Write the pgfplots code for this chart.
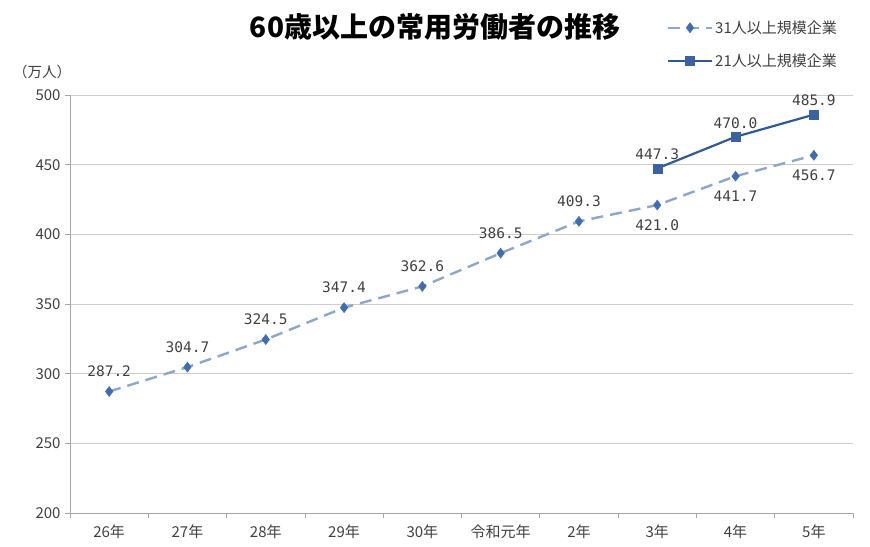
\documentclass[border=0pt]{standalone}
\usepackage{pgfplots}
\pgfplotsset{compat=1.18}
\usepackage{fontspec}
\setmainfont{Noto Sans CJK JP}
\newfontfamily\monofont{DejaVu Sans Mono}
\definecolor{dashc}{HTML}{8EA6CB}
\definecolor{markc}{HTML}{3F6DB5}
\definecolor{solidc}{HTML}{2E5A9C}
\definecolor{txt}{HTML}{404040}
\pgfplotstableread{
x y
0 287.2
1 304.7
2 324.5
3 347.4
4 362.6
5 386.5
6 409.3
7 421.0
8 441.7
9 456.7
}\seriesA
\pgfplotstableread{
x y
7 447.3
8 470.0
9 485.9
}\seriesB
\begin{document}
\begin{tikzpicture}[x=1bp,y=1bp]
\useasboundingbox (0,0) rectangle (870,547);
\begin{axis}[
  at={(70bp,34bp)}, anchor=south west,
  scale only axis, width=783bp, height=418bp,
  xmin=-0.5, xmax=9.5, ymin=200, ymax=500,
  ytick={200,250,...,500},
  xtick={0,...,9},
  xticklabels={26年,27年,28年,29年,30年,令和元年,2年,3年,4年,5年},
  minor xtick={-0.5,0.5,...,9.5},
  major x tick style={draw=none},
  minor x tick style={draw=gray!70, line width=0.8pt},
  ytick style={draw=gray!70, line width=0.8pt},
  tick align=outside,
  major tick length=5bp, minor tick length=5bp,
  ymajorgrids, grid style={draw=gray!40, line width=0.8pt},
  axis x line*=bottom, axis y line*=left,
  axis line style={draw=gray!70, line width=0.8pt, -},
  /pgf/number format/assume math mode=true,
  tick label style={font=\fontsize{15bp}{17bp}\selectfont, text=txt},
  xticklabel style={yshift=-3bp},
  yticklabel style={xshift=-1bp},
  clip=false,
  legend style={draw=none, fill=none, at={(0.762,1.183)}, anchor=north west,
    font=\fontsize{15bp}{17bp}\selectfont, text=txt, row sep=15bp, inner sep=0pt},
  legend cell align=left,
  legend image code/.code={\draw[mark repeat=2,mark phase=2,#1] plot coordinates {(0bp,0bp)(22bp,0bp)(44bp,0bp)};},
]
\addplot[color=dashc, line width=2.4pt, dash pattern=on 12bp off 7bp,
  mark=diamond*, mark size=5bp, mark options={solid, fill=markc, draw=markc, line width=0.5pt}]
  table[x=x,y=y] {\seriesA};
\addlegendentry{31人以上規模企業}
\addplot[color=solidc, line width=2.2pt,
  mark=square*, mark size=4.5bp, mark options={solid, fill=markc!90!black, draw=markc!90!black, line width=0.5pt}]
  table[x=x,y=y] {\seriesB};
\addlegendentry{21人以上規模企業}
% labels
\pgfplotsset{lbl/.style={draw=none, mark=none, forget plot, point meta=y,
  nodes near coords={\pgfmathprintnumber[fixed,fixed zerofill,precision=1]{\pgfplotspointmeta}},
  every node near coord/.append style={anchor=center, yshift=#1, font=\monofont\fontsize{14.5bp}{16bp}\selectfont, text=txt}}}
\addplot[lbl=20bp] table[x=x,y=y] {
x y
0 287.2
1 304.7
2 324.5
3 347.4
4 362.6
5 386.5
6 409.3
};
\addplot[lbl=-20bp] table[x=x,y=y] {
x y
7 421.0
8 441.7
9 456.7
};
\addplot[lbl=14bp] table[x=x,y=y] {\seriesB};
\end{axis}
\node[font=\fontsize{28bp}{31bp}\selectfont\bfseries, anchor=center] at (435,520) {60歳以上の常用労働者の推移};
\node[font=\fontsize{14.5bp}{16bp}\selectfont, text=txt, anchor=center] at (42,475) {（万人）};
\end{tikzpicture}
\end{document}
